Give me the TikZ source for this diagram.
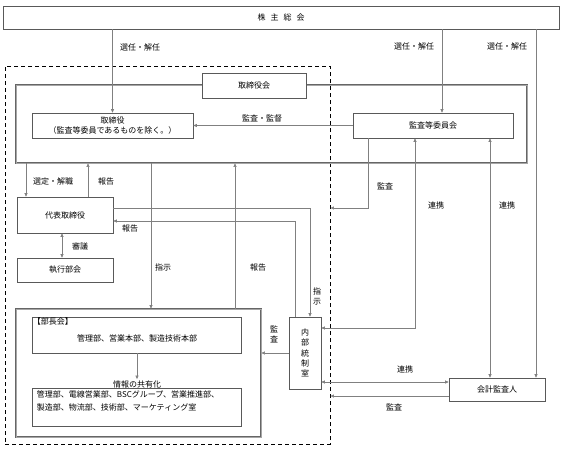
\documentclass[tikz,border=0pt]{standalone}
\usepackage{fontspec}
\setmainfont{Noto Sans CJK JP}
\usetikzlibrary{arrows.meta}
\tikzset{
  box/.style={draw=black!65, line width=0.6pt, fill=white, inner sep=1pt},
  frame/.style={draw=black!60, double=black!35, double distance=1pt, line width=0.7pt},
  grp/.style={draw=black, dashed, dash pattern=on 4pt off 3pt, line width=0.9pt},
  conn/.style={draw=black!50, line width=0.6pt},
  arr/.style={conn, -{Triangle[length=3.5pt,width=3pt]}},
  arrs/.style={conn, {Triangle[length=3.5pt,width=3pt]}-{Triangle[length=3.5pt,width=3pt]}},
  lbl/.style={inner sep=1pt, align=center}
}
\begin{document}
\begin{tikzpicture}[x=1pt, y=-1pt, font=\fontsize{8}{10}\selectfont]
  \useasboundingbox (0,0) rectangle (567,450);
  % groups and frames
  \node[grp, minimum width=325, minimum height=378] (grp) at (167.5,255) {};
  \node[frame, minimum width=511, minimum height=78] (board) at (271.5,124) {};
  \node[frame, minimum width=245, minimum height=128] (bucho) at (138.5,373) {};
  % boxes
  \node[box, minimum width=556, minimum height=23] (soukai) at (281,17.5) {株\hspace{5pt}主\hspace{5pt}総\hspace{5pt}会};
  \node[box, minimum width=104, minimum height=25] (boardlbl) at (254,85.5) {取締役会};
  \node[box, minimum width=161, minimum height=25, align=center] (torishimari) at (112.5,125.5) {取締役\\（監査等委員であるものを除く。）};
  \node[box, minimum width=160, minimum height=25] (kansa) at (433,125.5) {監査等委員会};
  \node[box, minimum width=96, minimum height=36] (daihyo) at (65,215) {代表取締役};
  \node[box, minimum width=96, minimum height=24] (shikkou) at (65,270) {執行部会};
  \node[box, minimum width=209, minimum height=36] (buchokai) at (136.5,335) {};
  \node[lbl, anchor=north west] (buchokaittl) at (buchokai.north west) {【部長会】};
  \node[lbl] (buchokaitxt) at (137,338) {管理部、営業本部、製造技術本部};
  \node[lbl] (joho) at (137,384) {情報の共有化};
  \node[box, minimum width=209, minimum height=38] (bumon) at (136.5,407) {};
  \node[lbl, anchor=north west, align=left, font=\fontsize{8}{12.5}\selectfont] (bumontxt) at ([xshift=4pt,yshift=-2pt]bumon.north west) {管理部、電線営業部、BSCグループ、営業推進部、\\製造部、物流部、技術部、マーケティング室};
  \node[box, minimum width=32, minimum height=72, align=center, font=\fontsize{8}{10.3}\selectfont] (naibu) at (305,353) {内\\部\\統\\制\\室};
  \node[box, minimum width=96, minimum height=23] (kaikei) at (497,389.5) {会計監査人};
  % column coordinates
  \coordinate (k1) at (442,0);
  \coordinate (k2) at (536,0);
  \coordinate (k3) at (415,328);
  \coordinate (k4) at (490,0);
  \coordinate (k5) at (368,208);
  \coordinate (d1) at (310,208);
  \coordinate (d2) at (295,221);
  % connectors
  \draw[arr] (soukai.south -| torishimari.north) -- (torishimari.north);
  \draw[arr] (soukai.south -| k1) -- (kansa.north -| k1);
  \draw[arr] (soukai.south -| k2) -- (kaikei.north -| k2);
  \draw[arr] (kansa.west) -- (torishimari.east);
  \draw[arr] (board.south -| 26,0) -- (daihyo.north -| 26,0);
  \draw[arr] (daihyo.north -| 88,0) -- (board.south -| 88,0);
  \draw[arr] (board.south -| 151,0) -- (bucho.north -| 151,0);
  \draw[arr] (bucho.north -| 235,0) -- (board.south -| 235,0);
  \draw[arrs] (daihyo.south -| 62,0) -- (shikkou.north -| 62,0);
  \draw[arr] (daihyo.east |- d1) -- (d1) -- (naibu.north -| d1);
  \draw[arr] (naibu.north -| d2) -- (d2) -- (daihyo.east |- d2);
  \draw[arr] (kansa.south -| k5) -- (k5) -- (grp.east |- k5);
  \draw[arrs] (kansa.south -| k3) -- (k3) -- (naibu.east |- k3);
  \draw[arrs] (kansa.south -| k4) -- (kaikei.north -| k4);
  \draw[arr] (naibu.west) -- (bucho.east |- naibu.west);
  \draw[arrs] (naibu.east |- 0,382) -- (kaikei.west |- 0,382);
  \draw[arr] (kaikei.west |- 0,396) -- (grp.east |- 0,396);
  \draw[arr] (buchokai.south -| joho.north) -- (joho.north);
  % labels
  \node[lbl] (l1) at (140,47) {選任・解任};
  \node[lbl] (l2) at (414,46) {選任・解任};
  \node[lbl] (l3) at (507,46) {選任・解任};
  \node[lbl] (l4) at (262,118) {監査・監督};
  \node[lbl] (l5) at (53,181) {選定・解職};
  \node[lbl] (l6) at (106,181) {報告};
  \node[lbl] (l7) at (385,186) {監査};
  \node[lbl] (l8) at (436,205) {連携};
  \node[lbl] (l9) at (507,205) {連携};
  \node[lbl] (l10) at (130,228) {報告};
  \node[lbl] (l11) at (80,246) {審議};
  \node[lbl] (l12) at (163,267) {指示};
  \node[lbl] (l13) at (258,267) {報告};
  \node[lbl] (l14) at (317,296) {指\\示};
  \node[lbl] (l15) at (274,334) {監\\査};
  \node[lbl] (l16) at (405,369) {連携};
  \node[lbl] (l17) at (394,407) {監査};
\end{tikzpicture}
\end{document}
